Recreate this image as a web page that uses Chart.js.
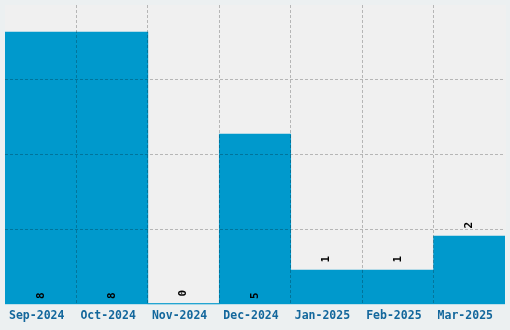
<!DOCTYPE html>
<html>
<head>
<meta charset="utf-8">
<script src="https://cdn.jsdelivr.net/npm/chart.js@4"></script>
<style>
  html, body { margin: 0; padding: 0; background: #ecf0f1; }
  #wrap { width: 510px; height: 330px; }
</style>
</head>
<body>
<div id="wrap"><canvas id="monthChart"></canvas></div>
<script>
const months = ["Sep-2024", "Oct-2024", "Nov-2024", "Dec-2024", "Jan-2025", "Feb-2025", "Mar-2025"];
const counts = [8, 8, 0, 5, 1, 1, 2];
const yMax = 8.8;

// light grey plot area behind the bars, plus the thin blue baseline
const plotBackground = {
    id: "plotBackground",
    beforeDatasetsDraw(chart) {
        const { ctx, chartArea } = chart;
        ctx.save();
        ctx.fillStyle = "#f0f0f0";
        ctx.fillRect(chartArea.left, chartArea.top, chartArea.right - chartArea.left + 1, chartArea.bottom - chartArea.top);
        ctx.fillStyle = "#0099cc";
        ctx.fillRect(chartArea.left, chartArea.bottom - 1, chartArea.right - chartArea.left, 1);
        ctx.restore();
    },
};

// rotated value labels: inside at the base for tall bars, above the top otherwise
const valueLabels = {
    id: "valueLabels",
    afterDatasetsDraw(chart) {
        const { ctx } = chart;
        const meta = chart.getDatasetMeta(0);
        ctx.save();
        ctx.fillStyle = "#000";
        ctx.font = "bold 11px 'DejaVu Sans Mono', monospace";
        ctx.textAlign = "center";
        ctx.textBaseline = "middle";
        meta.data.forEach((bar, i) => {
            const v = counts[i];
            const y = v >= 5 ? bar.base - 8 : bar.y - 11;
            ctx.save();
            ctx.translate(bar.x, y);
            ctx.rotate(-Math.PI / 2);
            ctx.fillText(String(v), 0, 0);
            ctx.restore();
        });
        ctx.restore();
    },
};

const gridColor = "rgba(0, 0, 0, 0.24)";

new Chart(document.getElementById("monthChart"), {
    type: "bar",
    data: {
        labels: months,
        datasets: [
            {
                data: counts,
                backgroundColor: "#0099cc",
                barPercentage: 1,
                categoryPercentage: 1,
                borderWidth: 0,
            },
        ],
    },
    options: {
        responsive: true,
        maintainAspectRatio: false,
        animation: false,
        layout: { padding: { left: 5, right: 5, top: 5, bottom: 2 } },
        plugins: {
            legend: { display: false },
            tooltip: { enabled: false },
        },
        scales: {
            x: {
                grid: {
                    z: 1,
                    drawTicks: false,
                    color: (c) => (c.type !== "tick" || c.index === 0 ? "transparent" : gridColor),
                },
                border: { display: false, dash: [3, 2] },
                ticks: {
                    padding: 5,
                    labelOffset: -4,
                    color: "#13679c",
                    font: { family: "'DejaVu Sans Mono', monospace", size: 11.5, weight: "bold" },
                    maxRotation: 0,
                    autoSkip: false,
                },
            },
            y: {
                min: 0,
                max: yMax,
                ticks: { display: false, count: 5 },
                grid: {
                    z: 1,
                    drawTicks: false,
                    color: (c) => (c.type !== "tick" || c.index === 0 || c.index === 4 ? "transparent" : gridColor),
                },
                border: { display: false, dash: [3, 2] },
            },
        },
    },
    plugins: [plotBackground, valueLabels],
});
</script>
</body>
</html>
